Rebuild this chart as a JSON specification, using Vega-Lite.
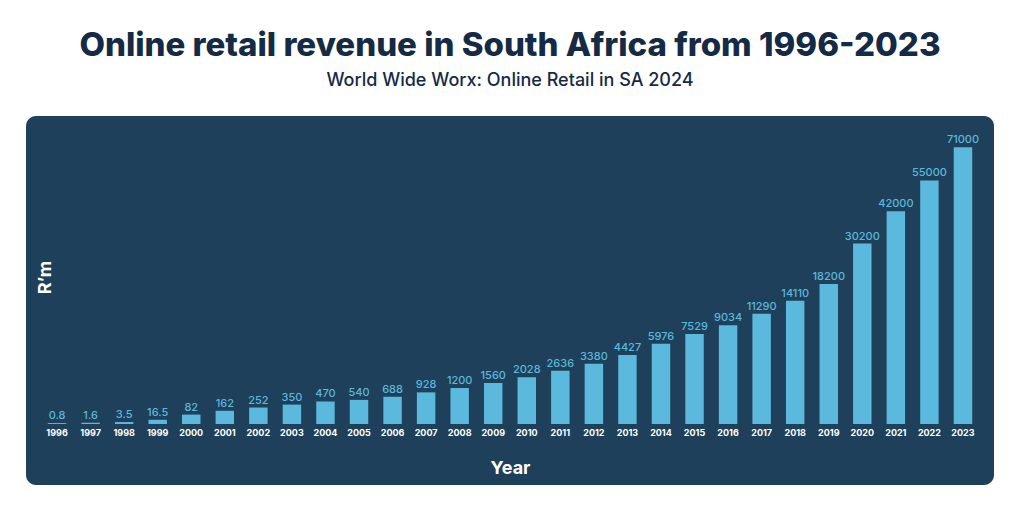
{
  "$schema": "https://vega.github.io/schema/vega-lite/v6.json",
  "width": 968,
  "height": 369,
  "autosize": "none",
  "padding": {"left": 26, "top": 116, "right": 30, "bottom": 29},
  "background": "#ffffff",
  "title": {
    "text": "Online retail revenue in South Africa from 1996-2023",
    "subtitle": "World Wide Worx: Online Retail in SA 2024",
    "anchor": "middle",
    "font": "Inter",
    "fontWeight": 800,
    "fontSize": 33,
    "color": "#152a45",
    "subtitleFont": "Inter",
    "subtitleFontWeight": 500,
    "subtitleFontSize": 18,
    "subtitleColor": "#152a45",
    "subtitlePadding": 9,
    "offset": 26
  },
  "config": {
    "view": {"fill": "#1f405a", "stroke": null, "cornerRadius": 10},
    "axis": {"grid": false, "labels": false, "ticks": false, "domain": false,
             "titleFont": "Inter", "titleFontWeight": 700, "titleFontSize": 18, "titleColor": "#ffffff"}
  },
  "data": {
    "values": [
      {"year": "1996", "revenue": 0.8},
      {"year": "1997", "revenue": 1.6},
      {"year": "1998", "revenue": 3.5},
      {"year": "1999", "revenue": 16.5},
      {"year": "2000", "revenue": 82},
      {"year": "2001", "revenue": 162},
      {"year": "2002", "revenue": 252},
      {"year": "2003", "revenue": 350},
      {"year": "2004", "revenue": 470},
      {"year": "2005", "revenue": 540},
      {"year": "2006", "revenue": 688},
      {"year": "2007", "revenue": 928},
      {"year": "2008", "revenue": 1200},
      {"year": "2009", "revenue": 1560},
      {"year": "2010", "revenue": 2028},
      {"year": "2011", "revenue": 2636},
      {"year": "2012", "revenue": 3380},
      {"year": "2013", "revenue": 4427},
      {"year": "2014", "revenue": 5976},
      {"year": "2015", "revenue": 7529},
      {"year": "2016", "revenue": 9034},
      {"year": "2017", "revenue": 11290},
      {"year": "2018", "revenue": 14110},
      {"year": "2019", "revenue": 18200},
      {"year": "2020", "revenue": 30200},
      {"year": "2021", "revenue": 42000},
      {"year": "2022", "revenue": 55000},
      {"year": "2023", "revenue": 71000}
    ]
  },
  "encoding": {
    "x": {
      "field": "year", "type": "ordinal",
      "scale": {"paddingInner": 0.45, "paddingOuter": 0.65},
      "axis": {"title": "Year", "titleY": -17, "titleBaseline": "middle"}
    }
  },
  "layer": [
    {
      "mark": {"type": "bar", "color": "#5ab9dc"},
      "encoding": {
        "y": {
          "field": "revenue", "type": "quantitative",
          "scale": {"type": "sqrt", "domain": [-3450, 87966], "nice": false, "zero": false},
          "axis": {"title": "R’m", "titleX": 19, "titleY": 161, "titleBaseline": "middle", "titleAlign": "center", "titleAngle": -90}
        },
        "y2": {"datum": 0}
      }
    },
    {
      "mark": {"type": "text", "color": "#5ab9dc", "font": "Inter", "fontWeight": 500, "fontSize": 11, "baseline": "alphabetic", "dy": -4},
      "encoding": {
        "y": {"field": "revenue", "type": "quantitative"},
        "text": {"field": "revenue", "type": "nominal"}
      }
    },
    {
      "mark": {"type": "text", "color": "#ffffff", "font": "Inter", "fontWeight": 700, "fontSize": 9, "baseline": "middle", "dy": 8.5},
      "encoding": {
        "y": {"datum": 0, "type": "quantitative"},
        "text": {"field": "year", "type": "nominal"}
      }
    }
  ]
}
